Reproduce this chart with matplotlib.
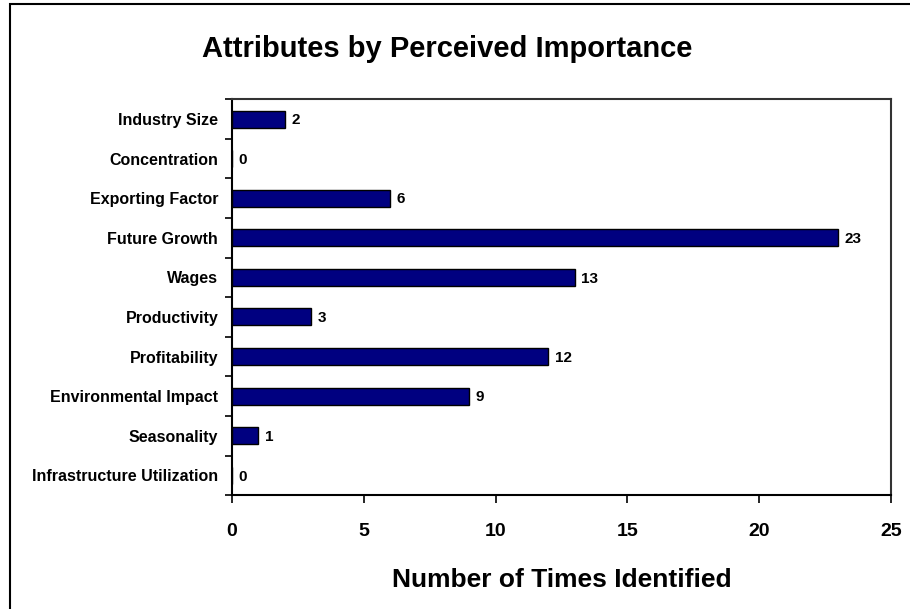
import matplotlib.pyplot as plt
from matplotlib.patches import Rectangle

plt.rcParams['font.family'] = ['Liberation Sans', 'DejaVu Sans']
plt.rcParams['font.weight'] = 'bold'

# attributes listed top to bottom
attributes = ['Industry Size', 'Concentration', 'Exporting Factor', 'Future Growth',
              'Wages', 'Productivity', 'Profitability', 'Environmental Impact',
              'Seasonality', 'Infrastructure Utilization']
times_identified = [2, 0, 6, 23, 13, 3, 12, 9, 1, 0]
x_ticks = [0, 5, 10, 15, 20, 25]

fig = plt.figure(figsize=(9.1, 6.09), dpi=100)
ax = fig.add_axes([0.255, 0.187, 0.724, 0.650])

# outer chart border (only top and left edges fall inside the image)
fig.patches.append(Rectangle((10 / 910, -0.1), 1.2, 1.1 - 4 / 609,
                             transform=fig.transFigure, fill=False,
                             edgecolor='black', linewidth=1.5))

positions = list(range(len(attributes)))
ax.barh(positions, times_identified, height=0.43, color='#000080',
        edgecolor='black', linewidth=1.0)

for pos, val in zip(positions, times_identified):
    ax.text(val + 0.25, pos + 0.03, str(val), va='center', ha='left',
            fontsize=11, fontweight='bold')

ax.set_xlim(0, 25)
ax.set_ylim(len(attributes) - 0.5, -0.5)
ax.set_xticks(x_ticks)
ax.set_xticklabels([str(t) for t in x_ticks], fontsize=14, fontweight='bold')

# category labels centered on bars, tick marks on the boundaries
ax.set_yticks(positions)
ax.set_yticklabels(attributes, fontsize=11.5, fontweight='bold')
ax.tick_params(axis='y', which='major', length=0, pad=10)
ax.set_yticks([p - 0.5 for p in positions] + [len(attributes) - 0.5], minor=True)
ax.tick_params(axis='y', which='minor', length=5, width=1.2, direction='out')
ax.tick_params(axis='x', length=6, width=1.2, direction='out', pad=14)

for side in ['top', 'right']:
    ax.spines[side].set_color('#333333')
    ax.spines[side].set_linewidth(1.5)
for side in ['left', 'bottom']:
    ax.spines[side].set_linewidth(1.5)

ax.set_xlabel('Number of Times Identified', fontsize=19, fontweight='bold', labelpad=20)
fig.text(0.491, 0.92, 'Attributes by Perceived Importance', ha='center', va='center',
         fontsize=21, fontweight='bold')

fig.savefig('out.png', dpi=100)
